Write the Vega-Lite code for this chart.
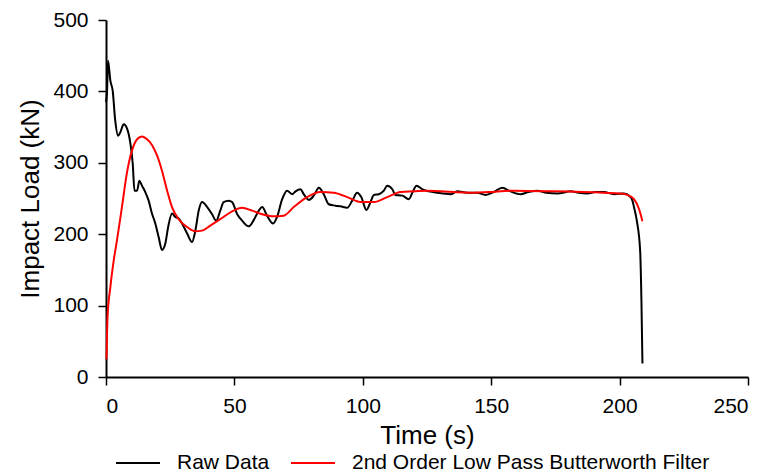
{
  "$schema": "https://vega.github.io/schema/vega-lite/v6.json",
  "width": 642,
  "height": 357,
  "autosize": "none",
  "padding": {"left": 106, "top": 20, "right": 19, "bottom": 98},
  "background": "white",
  "config": {
    "view": {"stroke": null},
    "font": "Liberation Sans",
    "axis": {"grid": false, "domainColor": "black", "domainWidth": 2, "tickColor": "black", "tickWidth": 1.5, "tickSize": 8, "labelFontSize": 21, "labelColor": "black", "titleFontSize": 26, "titleFontWeight": "normal", "titleColor": "black", "labelFont": "Liberation Sans", "titleFont": "Liberation Sans"}
  },
  "data": {"values": [
    {"t": 0, "v": 385, "s": "Raw Data"},
    {"t": 0.4, "v": 400, "s": "Raw Data"},
    {"t": 0.8, "v": 443, "s": "Raw Data"},
    {"t": 1.7, "v": 415, "s": "Raw Data"},
    {"t": 2.6, "v": 401, "s": "Raw Data"},
    {"t": 3.6, "v": 359, "s": "Raw Data"},
    {"t": 4.7, "v": 338, "s": "Raw Data"},
    {"t": 5.6, "v": 343, "s": "Raw Data"},
    {"t": 6.9, "v": 354, "s": "Raw Data"},
    {"t": 8.2, "v": 348, "s": "Raw Data"},
    {"t": 9.5, "v": 327, "s": "Raw Data"},
    {"t": 10.4, "v": 299, "s": "Raw Data"},
    {"t": 11.1, "v": 261, "s": "Raw Data"},
    {"t": 12.1, "v": 261, "s": "Raw Data"},
    {"t": 13.0, "v": 275, "s": "Raw Data"},
    {"t": 14.0, "v": 268, "s": "Raw Data"},
    {"t": 15.3, "v": 259, "s": "Raw Data"},
    {"t": 16.6, "v": 247, "s": "Raw Data"},
    {"t": 17.9, "v": 229, "s": "Raw Data"},
    {"t": 19.2, "v": 215, "s": "Raw Data"},
    {"t": 20.5, "v": 196, "s": "Raw Data"},
    {"t": 21.8, "v": 178, "s": "Raw Data"},
    {"t": 23.1, "v": 187, "s": "Raw Data"},
    {"t": 24.2, "v": 210, "s": "Raw Data"},
    {"t": 25.7, "v": 229, "s": "Raw Data"},
    {"t": 27.0, "v": 224, "s": "Raw Data"},
    {"t": 28.3, "v": 222, "s": "Raw Data"},
    {"t": 29.6, "v": 215, "s": "Raw Data"},
    {"t": 31.6, "v": 201, "s": "Raw Data"},
    {"t": 33.5, "v": 189, "s": "Raw Data"},
    {"t": 34.8, "v": 205, "s": "Raw Data"},
    {"t": 36.1, "v": 233, "s": "Raw Data"},
    {"t": 37.4, "v": 245, "s": "Raw Data"},
    {"t": 39.4, "v": 238, "s": "Raw Data"},
    {"t": 41.3, "v": 228, "s": "Raw Data"},
    {"t": 42.9, "v": 219, "s": "Raw Data"},
    {"t": 44.5, "v": 233, "s": "Raw Data"},
    {"t": 45.8, "v": 245, "s": "Raw Data"},
    {"t": 47.8, "v": 247, "s": "Raw Data"},
    {"t": 49.1, "v": 245, "s": "Raw Data"},
    {"t": 51.1, "v": 228, "s": "Raw Data"},
    {"t": 53.0, "v": 219, "s": "Raw Data"},
    {"t": 55.6, "v": 211, "s": "Raw Data"},
    {"t": 57.4, "v": 219, "s": "Raw Data"},
    {"t": 59.5, "v": 233, "s": "Raw Data"},
    {"t": 60.8, "v": 238, "s": "Raw Data"},
    {"t": 62.7, "v": 226, "s": "Raw Data"},
    {"t": 65.1, "v": 215, "s": "Raw Data"},
    {"t": 66.6, "v": 224, "s": "Raw Data"},
    {"t": 68.6, "v": 249, "s": "Raw Data"},
    {"t": 70.5, "v": 261, "s": "Raw Data"},
    {"t": 72.5, "v": 256, "s": "Raw Data"},
    {"t": 73.8, "v": 260, "s": "Raw Data"},
    {"t": 75.7, "v": 263, "s": "Raw Data"},
    {"t": 77.0, "v": 256, "s": "Raw Data"},
    {"t": 79.0, "v": 248, "s": "Raw Data"},
    {"t": 80.9, "v": 254, "s": "Raw Data"},
    {"t": 82.9, "v": 265, "s": "Raw Data"},
    {"t": 84.8, "v": 256, "s": "Raw Data"},
    {"t": 86.7, "v": 242, "s": "Raw Data"},
    {"t": 89.4, "v": 240, "s": "Raw Data"},
    {"t": 91.3, "v": 239, "s": "Raw Data"},
    {"t": 93.9, "v": 237, "s": "Raw Data"},
    {"t": 95.9, "v": 247, "s": "Raw Data"},
    {"t": 97.8, "v": 258, "s": "Raw Data"},
    {"t": 99.4, "v": 252, "s": "Raw Data"},
    {"t": 101.4, "v": 234, "s": "Raw Data"},
    {"t": 103.0, "v": 245, "s": "Raw Data"},
    {"t": 104.3, "v": 255, "s": "Raw Data"},
    {"t": 106.2, "v": 256, "s": "Raw Data"},
    {"t": 108.2, "v": 261, "s": "Raw Data"},
    {"t": 109.5, "v": 268, "s": "Raw Data"},
    {"t": 111.5, "v": 263, "s": "Raw Data"},
    {"t": 112.7, "v": 255, "s": "Raw Data"},
    {"t": 115.4, "v": 254, "s": "Raw Data"},
    {"t": 117.9, "v": 249, "s": "Raw Data"},
    {"t": 119.3, "v": 258, "s": "Raw Data"},
    {"t": 120.9, "v": 268, "s": "Raw Data"},
    {"t": 123.1, "v": 263, "s": "Raw Data"},
    {"t": 125.7, "v": 260, "s": "Raw Data"},
    {"t": 129.0, "v": 258, "s": "Raw Data"},
    {"t": 134.2, "v": 256, "s": "Raw Data"},
    {"t": 136.8, "v": 260, "s": "Raw Data"},
    {"t": 140.7, "v": 258, "s": "Raw Data"},
    {"t": 144.6, "v": 258, "s": "Raw Data"},
    {"t": 147.8, "v": 255, "s": "Raw Data"},
    {"t": 151.0, "v": 259, "s": "Raw Data"},
    {"t": 154.3, "v": 265, "s": "Raw Data"},
    {"t": 157.5, "v": 260, "s": "Raw Data"},
    {"t": 161.5, "v": 256, "s": "Raw Data"},
    {"t": 164.5, "v": 259, "s": "Raw Data"},
    {"t": 168.0, "v": 261, "s": "Raw Data"},
    {"t": 171.5, "v": 258, "s": "Raw Data"},
    {"t": 175.8, "v": 257, "s": "Raw Data"},
    {"t": 181.0, "v": 260, "s": "Raw Data"},
    {"t": 184.0, "v": 258, "s": "Raw Data"},
    {"t": 187.5, "v": 257, "s": "Raw Data"},
    {"t": 190.5, "v": 259, "s": "Raw Data"},
    {"t": 193.9, "v": 259, "s": "Raw Data"},
    {"t": 197.8, "v": 256, "s": "Raw Data"},
    {"t": 201.7, "v": 257, "s": "Raw Data"},
    {"t": 204.0, "v": 253, "s": "Raw Data"},
    {"t": 205.0, "v": 247, "s": "Raw Data"},
    {"t": 205.6, "v": 238, "s": "Raw Data"},
    {"t": 206.7, "v": 219, "s": "Raw Data"},
    {"t": 208.0, "v": 177, "s": "Raw Data"},
    {"t": 208.5, "v": 107, "s": "Raw Data"},
    {"t": 208.9, "v": 19, "s": "Raw Data"},
    {"t": 0.2, "v": 25, "s": "2nd Order Low Pass Butterworth Filter"},
    {"t": 0.6, "v": 84, "s": "2nd Order Low Pass Butterworth Filter"},
    {"t": 1.7, "v": 126, "s": "2nd Order Low Pass Butterworth Filter"},
    {"t": 3.0, "v": 163, "s": "2nd Order Low Pass Butterworth Filter"},
    {"t": 4.3, "v": 192, "s": "2nd Order Low Pass Butterworth Filter"},
    {"t": 6.2, "v": 238, "s": "2nd Order Low Pass Butterworth Filter"},
    {"t": 8.2, "v": 287, "s": "2nd Order Low Pass Butterworth Filter"},
    {"t": 10.1, "v": 317, "s": "2nd Order Low Pass Butterworth Filter"},
    {"t": 12.1, "v": 333, "s": "2nd Order Low Pass Butterworth Filter"},
    {"t": 14.0, "v": 337, "s": "2nd Order Low Pass Butterworth Filter"},
    {"t": 16.0, "v": 333, "s": "2nd Order Low Pass Butterworth Filter"},
    {"t": 17.9, "v": 325, "s": "2nd Order Low Pass Butterworth Filter"},
    {"t": 19.9, "v": 310, "s": "2nd Order Low Pass Butterworth Filter"},
    {"t": 21.8, "v": 289, "s": "2nd Order Low Pass Butterworth Filter"},
    {"t": 23.8, "v": 261, "s": "2nd Order Low Pass Butterworth Filter"},
    {"t": 25.7, "v": 238, "s": "2nd Order Low Pass Butterworth Filter"},
    {"t": 28.3, "v": 221, "s": "2nd Order Low Pass Butterworth Filter"},
    {"t": 31.6, "v": 210, "s": "2nd Order Low Pass Butterworth Filter"},
    {"t": 34.8, "v": 204, "s": "2nd Order Low Pass Butterworth Filter"},
    {"t": 37.4, "v": 205, "s": "2nd Order Low Pass Butterworth Filter"},
    {"t": 40.6, "v": 212, "s": "2nd Order Low Pass Butterworth Filter"},
    {"t": 44.5, "v": 221, "s": "2nd Order Low Pass Butterworth Filter"},
    {"t": 49.1, "v": 232, "s": "2nd Order Low Pass Butterworth Filter"},
    {"t": 53.0, "v": 237, "s": "2nd Order Low Pass Butterworth Filter"},
    {"t": 56.9, "v": 233, "s": "2nd Order Low Pass Butterworth Filter"},
    {"t": 60.8, "v": 228, "s": "2nd Order Low Pass Butterworth Filter"},
    {"t": 65.3, "v": 225, "s": "2nd Order Low Pass Butterworth Filter"},
    {"t": 69.2, "v": 226, "s": "2nd Order Low Pass Butterworth Filter"},
    {"t": 73.1, "v": 238, "s": "2nd Order Low Pass Butterworth Filter"},
    {"t": 78.3, "v": 252, "s": "2nd Order Low Pass Butterworth Filter"},
    {"t": 83.5, "v": 259, "s": "2nd Order Low Pass Butterworth Filter"},
    {"t": 88.7, "v": 258, "s": "2nd Order Low Pass Butterworth Filter"},
    {"t": 93.9, "v": 252, "s": "2nd Order Low Pass Butterworth Filter"},
    {"t": 99.1, "v": 245, "s": "2nd Order Low Pass Butterworth Filter"},
    {"t": 104.3, "v": 245, "s": "2nd Order Low Pass Butterworth Filter"},
    {"t": 109.5, "v": 252, "s": "2nd Order Low Pass Butterworth Filter"},
    {"t": 114.7, "v": 259, "s": "2nd Order Low Pass Butterworth Filter"},
    {"t": 119.9, "v": 260, "s": "2nd Order Low Pass Butterworth Filter"},
    {"t": 125.1, "v": 261, "s": "2nd Order Low Pass Butterworth Filter"},
    {"t": 130.3, "v": 260, "s": "2nd Order Low Pass Butterworth Filter"},
    {"t": 143.3, "v": 258, "s": "2nd Order Low Pass Butterworth Filter"},
    {"t": 149.0, "v": 259, "s": "2nd Order Low Pass Butterworth Filter"},
    {"t": 158.9, "v": 261, "s": "2nd Order Low Pass Butterworth Filter"},
    {"t": 174.3, "v": 260, "s": "2nd Order Low Pass Butterworth Filter"},
    {"t": 193.9, "v": 258, "s": "2nd Order Low Pass Butterworth Filter"},
    {"t": 200.4, "v": 257, "s": "2nd Order Low Pass Butterworth Filter"},
    {"t": 203.0, "v": 255, "s": "2nd Order Low Pass Butterworth Filter"},
    {"t": 205.6, "v": 249, "s": "2nd Order Low Pass Butterworth Filter"},
    {"t": 207.6, "v": 235, "s": "2nd Order Low Pass Butterworth Filter"},
    {"t": 208.9, "v": 218, "s": "2nd Order Low Pass Butterworth Filter"}
  ]},
  "mark": {"type": "line", "strokeWidth": 2, "interpolate": "monotone"},
  "encoding": {
    "x": {"field": "t", "type": "quantitative", "scale": {"domain": [0, 250], "nice": false},
      "axis": {"title": "Time (s)", "values": [0, 50, 100, 150, 200, 250], "labelPadding": 10, "titlePadding": 6}},
    "y": {"field": "v", "type": "quantitative", "scale": {"domain": [0, 500], "nice": false},
      "axis": {"title": "Impact Load (kN)", "values": [0, 100, 200, 300, 400, 500], "labelPadding": 10, "titlePadding": 9}},
    "color": {"field": "s", "type": "nominal",
      "scale": {"domain": ["Raw Data", "2nd Order Low Pass Butterworth Filter"], "range": ["black", "red"]},
      "legend": {"title": null, "orient": "none", "legendX": 9, "legendY": 420, "direction": "horizontal",
        "symbolType": "stroke", "symbolSize": 1936, "symbolStrokeWidth": 2, "labelFontSize": 21, "labelColor": "black",
        "labelFont": "Liberation Sans", "columnPadding": 17, "labelOffset": 16, "labelLimit": 600}}
  }
}
